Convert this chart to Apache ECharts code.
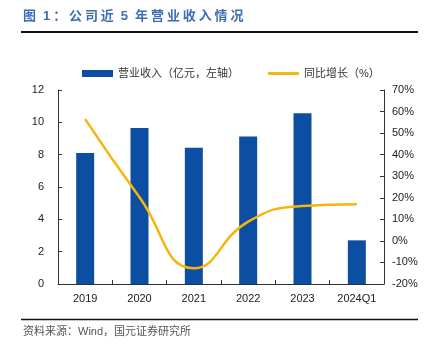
<!DOCTYPE html>
<html>
<head>
<meta charset="utf-8">
<script src="https://cdn.jsdelivr.net/npm/echarts@6/dist/echarts.min.js"></script>
<style>
  html, body { margin: 0; padding: 0; background: #fff; }
  #chart { width: 429px; height: 345px; }
</style>
</head>
<body>
<div id="chart"></div>
<script>
// Revenue by period (100M CNY) and year-over-year growth (%)
const categories = ['2019', '2020', '2021', '2022', '2023', '2024Q1'];
const revenue = [8.1, 9.65, 8.43, 9.13, 10.56, 2.7];
const growth = [56.5, 20.2, -12.7, 8.9, 16.2, 17.0];

const titleText = '图 1：公司近 5 年营业收入情况';
const sourceText = '资料来源：Wind，国元证券研究所';
const revenueName = '营业收入（亿元，左轴）';
const growthName = '同比增长（%）';

const cjk = '"Liberation Sans", Arial, "Noto Sans CJK SC", sans-serif';

// Title is laid out glyph by glyph so it can carry extra letter spacing
function spacedText(text, x, y, font, fill, spacing) {
  const ctx = document.createElement('canvas').getContext('2d');
  ctx.font = font;
  const items = [];
  let cx = x;
  for (const ch of text) {
    const w = ctx.measureText(ch).width;
    if (ch !== ' ') {
      items.push({ type: 'text', x: cx, y: y, style: { text: ch, font: font, fill: fill, textVerticalAlign: 'top' } });
    }
    cx += w + (ch === ' ' ? 0.5 : spacing);
  }
  return items;
}

const chart = echarts.init(document.getElementById('chart'), null, { renderer: 'canvas' });

chart.setOption({
  animation: false,
  backgroundColor: '#fff',
  textStyle: { fontFamily: cjk },
  graphic: [
    ...spacedText(titleText, 23, 10, 'bold 13px ' + cjk, '#3d6db5', 2.9),
    {
      type: 'line', shape: { x1: 21, y1: 32, x2: 418, y2: 32 },
      style: { stroke: '#111', lineWidth: 2 }
    },
    {
      type: 'line', shape: { x1: 21, y1: 319.5, x2: 418, y2: 319.5 },
      style: { stroke: '#111', lineWidth: 1.5 }
    },
    {
      type: 'text', left: 23, top: 326,
      style: { text: sourceText, font: '11px ' + cjk, fill: '#555' }
    }
  ],
  legend: {
    top: 68, left: 82,
    padding: 0,
    itemGap: 29,
    itemWidth: 31, itemHeight: 7,
    textStyle: { fontSize: 11, color: '#333', fontFamily: cjk },
    data: [
      { name: revenueName, icon: 'rect' },
      { name: growthName, icon: 'path://M0,0H32V3H0Z' }
    ]
  },
  grid: { left: 58, right: 45, top: 90, bottom: 61 },
  xAxis: {
    type: 'category',
    data: categories,
    axisLine: { lineStyle: { color: '#333', width: 1 } },
    axisTick: { show: true, inside: true, length: 4, lineStyle: { color: '#333' } },
    axisLabel: { color: '#222', fontSize: 11, margin: 9, fontFamily: cjk }
  },
  yAxis: [
    {
      type: 'value', min: 0, max: 12, interval: 2,
      axisLine: { show: true, lineStyle: { color: '#333' } },
      axisTick: { show: true, inside: true, length: 4, lineStyle: { color: '#333' } },
      splitLine: { show: false },
      axisLabel: { color: '#222', fontSize: 11, margin: 14, fontFamily: cjk }
    },
    {
      type: 'value', min: -20, max: 70, interval: 10,
      axisLine: { show: true, lineStyle: { color: '#333' } },
      axisTick: { show: true, inside: true, length: 4, lineStyle: { color: '#333' } },
      splitLine: { show: false },
      axisLabel: { color: '#222', fontSize: 11, margin: 8, formatter: '{value}%', fontFamily: cjk }
    }
  ],
  series: [
    {
      name: revenueName,
      type: 'bar',
      data: revenue,
      barWidth: 18,
      itemStyle: { color: '#0c4ea2' }
    },
    {
      name: growthName,
      type: 'line',
      yAxisIndex: 1,
      data: growth,
      smooth: 0.5,
      symbol: 'none',
      lineStyle: { color: '#f5b50a', width: 2.5 },
      itemStyle: { color: '#f5b50a' }
    }
  ]
});
</script>
</body>
</html>
